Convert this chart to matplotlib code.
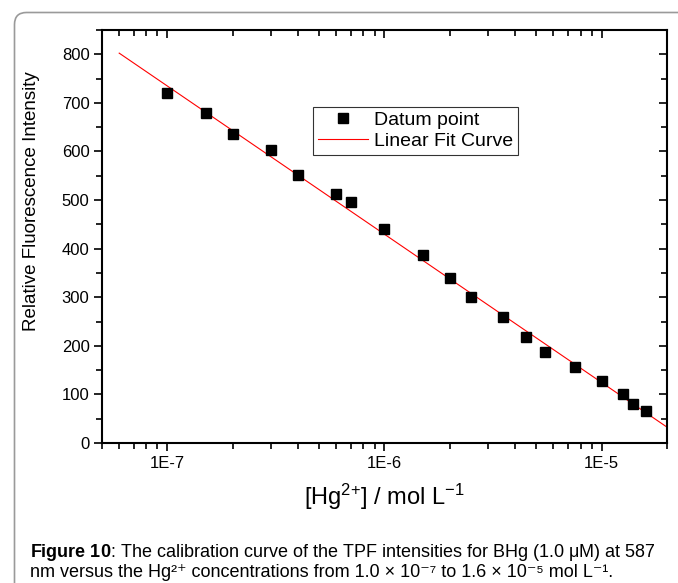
import numpy as np
import matplotlib
matplotlib.use("Agg")
import matplotlib.pyplot as plt
from matplotlib.patches import FancyBboxPatch
from matplotlib.ticker import LogLocator, MultipleLocator, FixedFormatter, FixedLocator

plt.rcParams.update({
    "font.family": ["Liberation Sans", "DejaVu Sans"],
    "mathtext.fontset": "custom",
    "mathtext.rm": "Liberation Sans",
    "mathtext.it": "Liberation Sans:italic",
    "mathtext.bf": "Liberation Sans:bold",
})

# Hg2+ concentration (mol/L) and fluorescence intensity
conc = [1.0e-7, 1.5e-7, 2.0e-7, 3.0e-7, 4.0e-7, 6.0e-7, 7.0e-7, 1.0e-6, 1.5e-6,
        2.0e-6, 2.5e-6, 3.5e-6, 4.5e-6, 5.5e-6, 7.5e-6, 1.0e-5, 1.25e-5, 1.4e-5, 1.6e-5]
intensity = [721, 680, 635, 602, 551, 512, 497, 440, 387,
             340, 300, 259, 219, 187, 156, 127, 101, 80, 66]

# linear fit: I = a + b*log10(c)
fit_a = -1401.0
fit_b = -305.1
fit_range = [6.0e-8, 2.0e-5]

x_ticks = [1e-7, 1e-6, 1e-5]
x_tick_labels = ["1E-7", "1E-6", "1E-5"]

W, H = 6.78, 5.83
fig = plt.figure(figsize=(W, H), dpi=100)

# rounded page border, open to the right and bottom
border = FancyBboxPatch((0.145, -1.0), 8.0, H - 0.125 + 1.0,
                        boxstyle="round,pad=0,rounding_size=0.12",
                        transform=fig.dpi_scale_trans, fc="none",
                        ec="#9a9a9a", lw=1.2, zorder=0)
fig.patches.append(border)

ax = fig.add_axes([102 / 678, 1 - 443 / 583, 565 / 678, 413 / 583])

fx = np.array(fit_range)
ax.plot(fx, fit_a + fit_b * np.log10(fx), color="red", lw=0.8, label="Linear Fit Curve")
ax.plot(conc, intensity, "s", color="black", ms=7, label="Datum point")

ax.set_xscale("log")
ax.set_xlim(5e-8, 2e-5)
ax.set_ylim(0, 850)

ax.xaxis.set_major_locator(FixedLocator(x_ticks))
ax.xaxis.set_major_formatter(FixedFormatter(x_tick_labels))
ax.xaxis.set_minor_locator(LogLocator(base=10, subs=np.arange(2, 10)))
ax.xaxis.set_minor_formatter(plt.NullFormatter())
ax.yaxis.set_major_locator(MultipleLocator(100))
ax.yaxis.set_minor_locator(MultipleLocator(50))

ax.tick_params(which="both", direction="out", top=True, right=True,
               labeltop=False, labelright=False, width=1.2, labelsize=12, pad=3)
ax.tick_params(which="major", length=6)
ax.tick_params(which="minor", length=4)
for s in ax.spines.values():
    s.set_linewidth(1.5)
# mirrored ticks point inward
for t in ax.xaxis.get_major_ticks() + ax.xaxis.get_minor_ticks():
    t.tick2line.set_marker(matplotlib.lines.TICKDOWN)
for t in ax.yaxis.get_major_ticks() + ax.yaxis.get_minor_ticks():
    t.tick2line.set_marker(matplotlib.lines.TICKLEFT)

ax.set_ylabel("Relative Fluorescence Intensity", fontsize=13.5)
ax.yaxis.set_label_coords(-0.11, 0.586)
ax.set_xlabel("[Hg$^{2{+}}$] / mol L$^{-1}$", fontsize=17)
ax.xaxis.set_label_coords(0.5, -0.095)

handles, labels = ax.get_legend_handles_labels()
leg = ax.legend(handles[::-1], labels[::-1], loc="upper left",
                bbox_to_anchor=(0.373, 0.814), fontsize=14, frameon=True,
                fancybox=False, edgecolor="black", handlelength=2.6,
                borderpad=0.25, labelspacing=0.15, handletextpad=0.3,
                borderaxespad=0)
leg.get_frame().set_linewidth(0.8)

fig.text(30 / 678, 1 - 557 / 583,
         r"$\mathbf{Figure\ 10}$: The calibration curve of the TPF intensities for BHg (1.0 μM) at 587",
         fontsize=13, va="baseline", ha="left")
fig.text(30 / 678, 1 - 577 / 583,
         "nm versus the Hg²⁺ concentrations from 1.0 × 10⁻⁷ to 1.6 × 10⁻⁵ mol L⁻¹.",
         fontsize=13, va="baseline", ha="left")

fig.savefig("out.png", dpi=100)
